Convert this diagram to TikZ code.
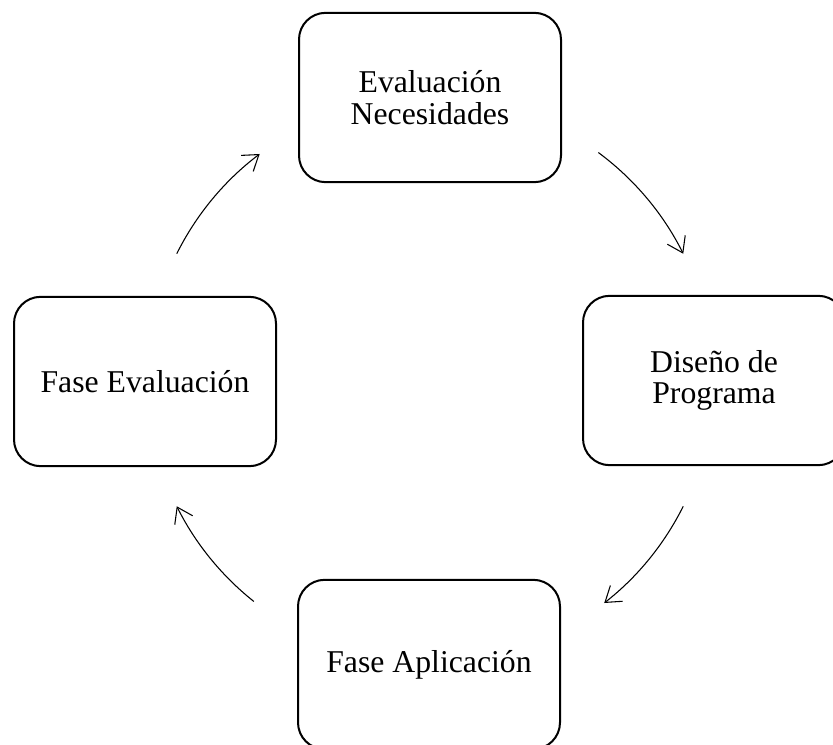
\documentclass[tikz,border=0pt]{standalone}
\usepackage{fontspec}
\setmainfont{Liberation Serif}
\usetikzlibrary{arrows.meta, calc}

\begin{document}
\begin{tikzpicture}[x = 0.75pt, y = 0.75pt,
    box/.style = {draw, line width = 1.5pt, rounded corners = 20pt, minimum width = 196.5pt, minimum height = 127pt, align = center, font = \fontsize{23.8}{23.5}\selectfont},
    cyc/.style = {line width = 0.8pt, -{Straight Barb[length = 11pt, width = 15pt]}}]
    \useasboundingbox (0, 0) rectangle (833, 744);

    \node[box] (need) at (430, 646.5){Evaluación\\Necesidades};
    \node[box] (design) at (714, 363.5){Diseño de\\Programa};
    \node[box] (apply) at (429, 79.5){Fase Aplicación};
    \node[box] (evalph) at (145, 362.5){Fase Evaluación};

    % cycle arrows on one circle round the middle
    \coordinate (o) at (430, 364);
    \draw[cyc] ($(o) + (53.5:212.25pt)$) arc[start angle = 53.5, end angle = 26.5, radius = 212.25pt];
    \draw[cyc] ($(o) + (-26.5:212.25pt)$) arc[start angle = -26.5, end angle = -52, radius = 212.25pt];
    \draw[cyc] ($(o) + (-128.5:212.25pt)$) arc[start angle = -128.5, end angle = -153.5, radius = 212.25pt];
    \draw[cyc] ($(o) + (153.5:212.25pt)$) arc[start angle = 153.5, end angle = 127, radius = 212.25pt];
\end{tikzpicture}
\end{document}
